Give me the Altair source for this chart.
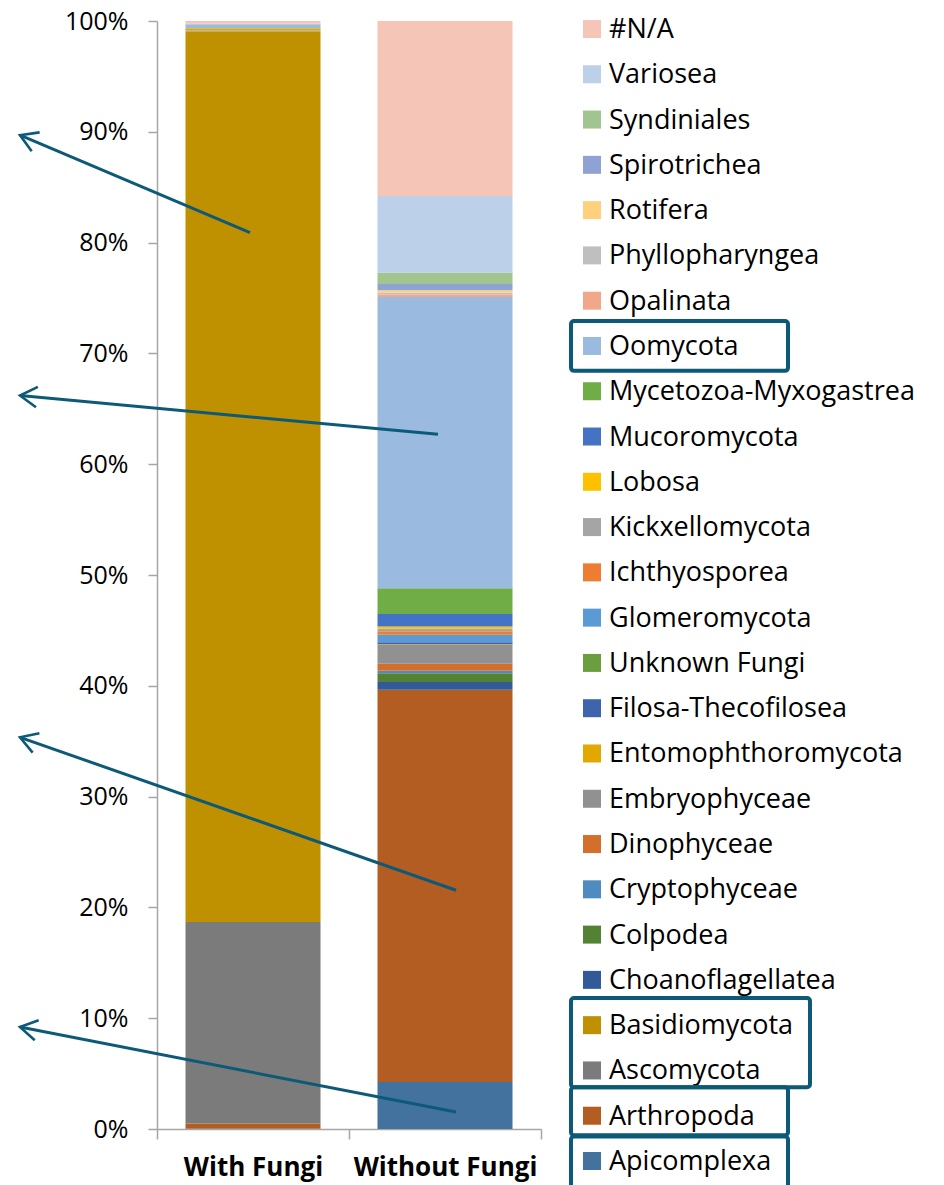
import math
import altair as alt
import pandas as pd

# ---------------- data ----------------
categories = ["Apicomplexa", "Arthropoda", "Ascomycota", "Basidiomycota",
              "Choanoflagellatea", "Colpodea", "Cryptophyceae", "Dinophyceae",
              "Embryophyceae", "Entomophthoromycota", "Filosa-Thecofilosea",
              "Unknown Fungi", "Glomeromycota", "Ichthyosporea", "Kickxellomycota",
              "Lobosa", "Mucoromycota", "Mycetozoa-Myxogastrea", "Oomycota",
              "Opalinata", "Phyllopharyngea", "Rotifera", "Spirotrichea",
              "Syndiniales", "Variosea", "#N/A"]
colors = ["#43729F", "#B35D22", "#7B7B7B", "#BF9000",
          "#335A98", "#548235", "#4F8BC0", "#D46F2B",
          "#919191", "#E2A800", "#3E64AD",
          "#6A9E3E", "#5B9BD5", "#ED7D31", "#A5A5A5",
          "#FFC000", "#4472C4", "#70AD47", "#9ABAE0",
          "#F1A78A", "#BFBFBF", "#FFD17F", "#8FA2D4",
          "#A2C490", "#BDD0E9", "#F5C6B8"]
samples = ["With Fungi", "Without Fungi"]
with_fungi = [0.05, 0.45, 18.2, 80.4, 0, 0, 0, 0, 0.1, 0.2, 0, 0, 0, 0, 0, 0, 0, 0,
              0.35, 0, 0, 0, 0, 0, 0.05, 0.25]
without_fungi = [4.24, 35.41, 0, 0, 0.69, 0.79, 0.23, 0.62, 1.76, 0.03, 0.15, 0.02,
                 0.67, 0.32, 0.22, 0.21, 1.11, 2.34, 26.28, 0.23, 0.15, 0.23, 0.56,
                 1.04, 6.9, 15.8]

# annotation arrows (y in percent of the stacked axis)
arrow_tail_pct = [80.9, 62.7, 21.55, 1.53]
arrow_head_pct = [89.7, 66.2, 35.35, 9.2]

# legend rows highlighted with boxes
highlight_groups = [["Oomycota"], ["Basidiomycota", "Ascomycota"], ["Arthropoda"], ["Apicomplexa"]]

# ---------------- layout ----------------
W, H = 384, 1108
FONT = "Open Sans"
ACCENT = "#0D5A78"
AXIS_GRAY = "#A6A6A6"
arrow_tail_x = [93, 281, 299, 299]
arrow_head_x = -137

rows = []
for s, vals in zip(samples, [with_fungi, without_fungi]):
    for i, (c, v) in enumerate(zip(categories, vals)):
        rows.append({"sample": s, "taxon": c, "idx": i, "value": v})
df = pd.DataFrame(rows)

color_scale = alt.Scale(domain=categories, range=colors)

bars = alt.Chart(df).mark_bar(width=alt.RelativeBandSize(135 / 192)).encode(
    x=alt.X("sample:N", sort=samples, title=None,
            scale=alt.Scale(paddingInner=0, paddingOuter=0),
            axis=alt.Axis(labelAngle=0, labelFontWeight="bold", labelFontSize=26,
                          labelFont=FONT, labelColor="black", labelPadding=15,
                          labelLimit=0,
                          tickBand="extent", tickSize=10, tickColor=AXIS_GRAY,
                          domainColor=AXIS_GRAY, domainWidth=1.5, tickWidth=1.5)),
    y=alt.Y("value:Q", stack="normalize", title=None,
            scale=alt.Scale(domain=[0, 1]),
            axis=alt.Axis(format=".0%", values=[i / 10 for i in range(11)],
                          labelFontSize=25, labelFont=FONT, labelColor="black",
                          labelPadding=20, tickSize=9, tickColor=AXIS_GRAY,
                          domainColor=AXIS_GRAY, domainWidth=1.5, tickWidth=1.5,
                          grid=False)),
    color=alt.Color("taxon:N", scale=color_scale, legend=None),
    order=alt.Order("idx:Q", sort="ascending"),
)

# arrows
arr = []
for tx, tp, hp in zip(arrow_tail_x, arrow_tail_pct, arrow_head_pct):
    dx = arrow_head_x - tx
    dy = -(hp - tp) * H / 100.0
    ang = math.degrees(math.atan2(dy, dx)) % 360
    arr.append({"tx": tx, "tp": tp, "hx": arrow_head_x, "hp": hp, "ang": ang})
adf = pd.DataFrame(arr)
pct_scale = alt.Scale(domain=[0, 100])

arrow_lines = alt.Chart(adf).mark_rule(color=ACCENT, strokeWidth=3).encode(
    x=alt.X("tx:Q", scale=None), x2="hx:Q",
    y=alt.Y("tp:Q", scale=pct_scale, axis=None), y2="hp:Q",
)
arrow_heads = alt.Chart(adf).mark_point(
    shape="M-1,-0.6L0,0L-1,0.6", filled=False, color=ACCENT, strokeWidth=2.6,
    size=1156, opacity=1,
).encode(
    x=alt.X("hx:Q", scale=None),
    y=alt.Y("hp:Q", scale=pct_scale, axis=None),
    angle=alt.Angle("ang:Q", scale=None),
)

# legend (top to bottom: reverse of stacking order)
legend_order = categories[::-1]
ldf = pd.DataFrame({"taxon": legend_order, "row": list(range(len(legend_order)))})
row_scale = alt.Scale(domain=[0, len(legend_order) - 1], range=[8, 1140])

leg_sw = alt.Chart(ldf).mark_square(size=324, opacity=1).encode(
    x=alt.value(435),
    y=alt.Y("row:Q", scale=row_scale, axis=None),
    color=alt.Color("taxon:N", scale=color_scale, legend=None),
)
leg_tx = alt.Chart(ldf).mark_text(align="left", baseline="middle", fontSize=27,
                                  font=FONT, color="black", dy=1).encode(
    x=alt.value(452),
    y=alt.Y("row:Q", scale=row_scale, axis=None),
    text="taxon:N",
)

box_rows = []
box_right = [631, 653, 631, 631]
box_pad = [(0.55, 0.55), (0.6, 0.37), (0.63, 0.43), (0.54, 0.9)]
for grp, xr, (pt, pb) in zip(highlight_groups, box_right, box_pad):
    r = [legend_order.index(g) for g in grp]
    box_rows.append({"r0": min(r) - pt, "r1": max(r) + pb, "x0": 414, "x1": xr})
bdf = pd.DataFrame(box_rows)
boxes = alt.Chart(bdf).mark_rect(filled=False, stroke=ACCENT, strokeWidth=4,
                                 cornerRadius=3).encode(
    x=alt.X("x0:Q", scale=None), x2="x1:Q",
    y=alt.Y("r0:Q", scale=row_scale, axis=None), y2="r1:Q",
)

chart = alt.layer(bars, arrow_lines, arrow_heads, leg_sw, leg_tx, boxes).resolve_scale(
    y="independent", x="independent"
).properties(
    width=W, height=H,
    autosize=alt.AutoSizeParams(type="none"),
    padding={"left": 149, "top": 13, "right": 395, "bottom": 56},
    background="white",
).configure_view(stroke=None)

chart.save("out.html", embed_options={"renderer": "svg", "actions": False})
